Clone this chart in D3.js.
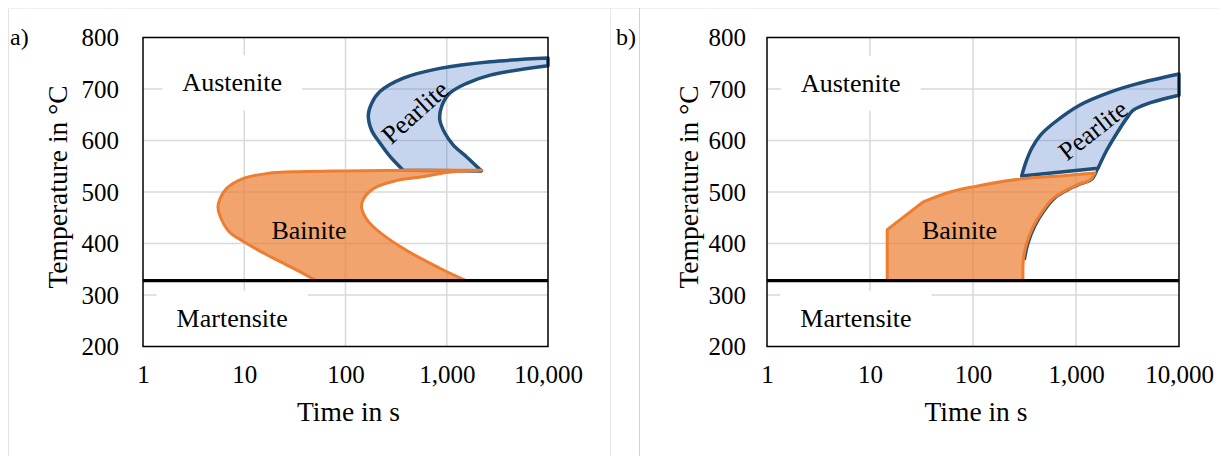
<!DOCTYPE html>
<html>
<head>
<meta charset="utf-8">
<script src="https://cdn.jsdelivr.net/npm/d3@7"></script>
<style>
  body { margin: 0; background: #fff; }
</style>
</head>
<body>
<svg id="chart" width="1219" height="456"></svg>
<script>
// ---- axis ticks ----
const timeTicks = [1, 10, 100, 1000, 10000];
const tempTicks = [200, 300, 400, 500, 600, 700, 800];
const msTemp = 328; // martensite start, °C

// ---- panel a : [time s, temperature °C] ----
const bainiteOuterA = [[51, 328], [35, 346], [20, 370], [10, 403], [7.1, 423], [5.8, 452], [5.5, 471],
  [5.8, 488], [6.7, 507], [10, 527], [17, 536], [35, 539.5], [95, 541], [500, 542], [2200, 542]];
const bainiteInnerA = [[2200, 542], [1000, 538], [600, 530], [300, 521], [190, 507], [152, 488],
  [144, 471], [158, 450], [187, 433], [346, 394], [854, 352], [1550, 328]];
const pearliteOuterA = [[372, 542], [275, 569], [219, 595], [181, 620], [168, 649], [181, 672],
  [219, 695], [372, 721], [854, 740], [2690, 753], [10000, 760]];
const pearliteInnerA = [[10000, 745], [2690, 727], [1574, 711], [1076, 692], [890, 666], [854, 640],
  [961, 614], [1161, 591], [1574, 568], [2200, 541]];

// ---- panel b ----
const bainiteEdgeB = [[14.7, 328], [14.7, 427], [33, 481]];
const bainiteTopB = [[33, 481], [60, 500], [100, 510], [286, 525], [800, 532], [1529, 537]];
const bainiteInnerB = [[1529, 537], [1368, 523], [1094, 516], [813, 504], [603, 488], [482, 465],
  [385, 433], [332, 400], [308, 368], [306, 328]];
const pearliteOuterB = [[297, 531], [325, 557], [372, 585], [450, 610], [600, 633], [1093, 669],
  [2146, 694], [3880, 710], [10000, 729]];
const pearliteInnerB = [[10000, 688], [5400, 674], [3600, 659], [3100, 643], [2600, 620],
  [2000, 582], [1636, 546]];
const pearliteStartB = [[1636, 546], [1430, 524], [1140, 516], [845, 504], [625, 488], [500, 465],
  [400, 433], [345, 400], [318, 368]];

// ---- phase labels : [text, time, temperature, rotation] ----
const labelsA = [["Austenite", 7.6, 712, 0], ["Martensite", 7.6, 255, 0],
  ["Bainite", 43.6, 426, 0], ["Pearlite", 486, 655, -42]];
const labelsB = [["Austenite", 6.5, 711, 0], ["Martensite", 7.3, 255, 0],
  ["Bainite", 74, 426, 0], ["Pearlite", 1462, 620, -38]];

const FONT = "'Liberation Serif', 'Times New Roman', Times, 'DejaVu Serif', serif";

const svg = d3.select("#chart").style("font-family", FONT);
svg.append("rect").attr("width", 1219).attr("height", 456).attr("fill", "#fff");

// faint page frame lines
const frame = svg.append("g").attr("stroke-width", 1);
frame.append("line").attr("x1", 8.5).attr("x2", 8.5).attr("y1", 8).attr("y2", 456).attr("stroke", "#e4e4e4");
frame.append("line").attr("x1", 8).attr("x2", 1219).attr("y1", 8.5).attr("y2", 8.5).attr("stroke", "#f0f0f0");
frame.append("line").attr("x1", 610.5).attr("x2", 610.5).attr("y1", 8).attr("y2", 456).attr("stroke", "#e8e8e8");
frame.append("line").attr("x1", 639.5).attr("x2", 639.5).attr("y1", 8).attr("y2", 456).attr("stroke", "#d2d2d2");

const ORANGE = "#ED7D31", BLUE = "#1F4E79", BLUE_FILL = "#4472C4";

// joins several curve segments into one outline (later segments continue the pen)
function outline(segments, x, y, close = true) {
  const p = d3.path();
  let started = false;
  const ctx = {
    moveTo(a, b) { if (!started) { p.moveTo(a, b); started = true; } else p.lineTo(a, b); },
    lineTo(a, b) { p.lineTo(a, b); },
    bezierCurveTo(a, b, c, d, e, f) { p.bezierCurveTo(a, b, c, d, e, f); },
    quadraticCurveTo(a, b, c, d) { p.quadraticCurveTo(a, b, c, d); },
    closePath() { p.closePath(); }
  };
  segments.forEach(([pts, curve]) => {
    d3.line().x(d => x(d[0])).y(d => y(d[1])).curve(curve).context(ctx)(pts);
  });
  if (close) p.closePath();
  return p.toString();
}

const smooth = d3.curveCatmullRom.alpha(0.5);
const straight = d3.curveLinear;

function label(sel) {
  return sel.style("font-family", FONT).attr("fill", "#000");
}

function drawPanel(cfg) {
  const x = d3.scaleLog().domain([1, 10000]).range([cfg.left, cfg.right]);
  const y = d3.scaleLinear().domain([200, 800]).range([346.5, 37.5]);
  const g = svg.append("g");

  // grid
  g.append("g").selectAll("line").data(tempTicks.filter(t => t > 200 && t < 800)).join("line")
    .attr("x1", cfg.left).attr("x2", cfg.right).attr("y1", d => y(d)).attr("y2", d => y(d))
    .attr("stroke", "#d9d9d9").attr("stroke-width", 1.5);
  g.append("g").selectAll("line").data(timeTicks.slice(1, -1)).join("line")
    .attr("x1", d => x(d)).attr("x2", d => x(d)).attr("y1", 37.5).attr("y2", 346.5)
    .attr("stroke", "#d9d9d9").attr("stroke-width", 1.5);

  const boxLayer = g.append("g");
  const shapeLayer = g.append("g");

  // transformation regions
  shapeLayer.append("path")
    .attr("d", outline(cfg.pearlite, x, y))
    .attr("fill", BLUE_FILL).attr("fill-opacity", 0.3)
    .attr("stroke", BLUE).attr("stroke-width", 3.5).attr("stroke-linejoin", "round");
  if (cfg.pearliteStart) {
    shapeLayer.append("path")
      .attr("d", outline([[cfg.pearliteStart, smooth]], x, y, false))
      .attr("fill", "none").attr("stroke", BLUE).attr("stroke-width", 2.5);
  }
  shapeLayer.append("path")
    .attr("d", outline(cfg.bainite, x, y))
    .attr("fill", ORANGE).attr("fill-opacity", 0.7)
    .attr("stroke", ORANGE).attr("stroke-width", 3).attr("stroke-linejoin", "round");

  // martensite start line
  g.append("line").attr("x1", cfg.left).attr("x2", cfg.right)
    .attr("y1", y(msTemp)).attr("y2", y(msTemp))
    .attr("stroke", "#000").attr("stroke-width", 3.2);

  // plot frame
  g.append("rect").attr("x", cfg.left).attr("y", 37.5)
    .attr("width", cfg.right - cfg.left).attr("height", 309)
    .attr("fill", "none").attr("stroke", "#000").attr("stroke-width", 1.5);

  // axes
  const xa = g.append("g").attr("transform", "translate(0,346.5)")
    .call(d3.axisBottom(x).tickValues(timeTicks).tickFormat(d3.format(",")).tickSize(0).tickPadding(19));
  const ya = g.append("g").attr("transform", `translate(${cfg.left},0)`)
    .call(d3.axisLeft(y).tickValues(tempTicks).tickSize(0).tickPadding(cfg.yPad));
  [xa, ya].forEach(a => {
    a.select(".domain").remove();
    a.attr("font-family", FONT).attr("font-size", 25);
    label(a.selectAll("text")).style("font-size", "25px");
  });

  // axis titles
  label(g.append("text")).attr("x", (cfg.left + cfg.right) / 2 + 3).attr("y", 421)
    .attr("text-anchor", "middle").style("font-size", "27.5px").text("Time in s");
  label(g.append("text")).attr("transform", `translate(${cfg.titleX},187) rotate(-90)`)
    .attr("text-anchor", "middle").style("font-size", "27.5px").text("Temperature in °C");

  // panel tag
  label(g.append("text")).attr("x", cfg.tagX).attr("y", 45).style("font-size", "24px").text(cfg.tag);

  // phase labels
  cfg.labels.forEach(([txt, t, T, rot]) => {
    const el = label(g.append("text"))
      .attr("transform", `translate(${x(t)},${y(T)}) rotate(${rot})`)
      .attr("text-anchor", "middle").attr("dy", "0.33em")
      .style("font-size", "26px").text(txt);
    if (txt === "Austenite" || txt === "Martensite") {
      const b = el.node().getBBox();
      boxLayer.append("rect")
        .attr("x", x(t) + b.x - 20).attr("y", y(T) + b.y - 13)
        .attr("width", b.width + 40).attr("height", b.height + 26)
        .attr("fill", "#fff");
    }
  });
}

drawPanel({
  tag: "a)", tagX: 10, titleX: 67, left: 143, right: 548, yPad: 24,
  bainite: [[bainiteOuterA, smooth], [bainiteInnerA, smooth]],
  pearlite: [[pearliteOuterA, smooth], [pearliteInnerA, smooth]],
  labels: labelsA
});
drawPanel({
  tag: "b)", tagX: 616, titleX: 698, left: 767, right: 1179, yPad: 21,
  bainite: [[bainiteEdgeB, straight], [bainiteTopB, smooth], [bainiteInnerB, smooth]],
  pearlite: [[pearliteOuterB, smooth], [pearliteInnerB, smooth]],
  pearliteStart: pearliteStartB,
  labels: labelsB
});
</script>
</body>
</html>
